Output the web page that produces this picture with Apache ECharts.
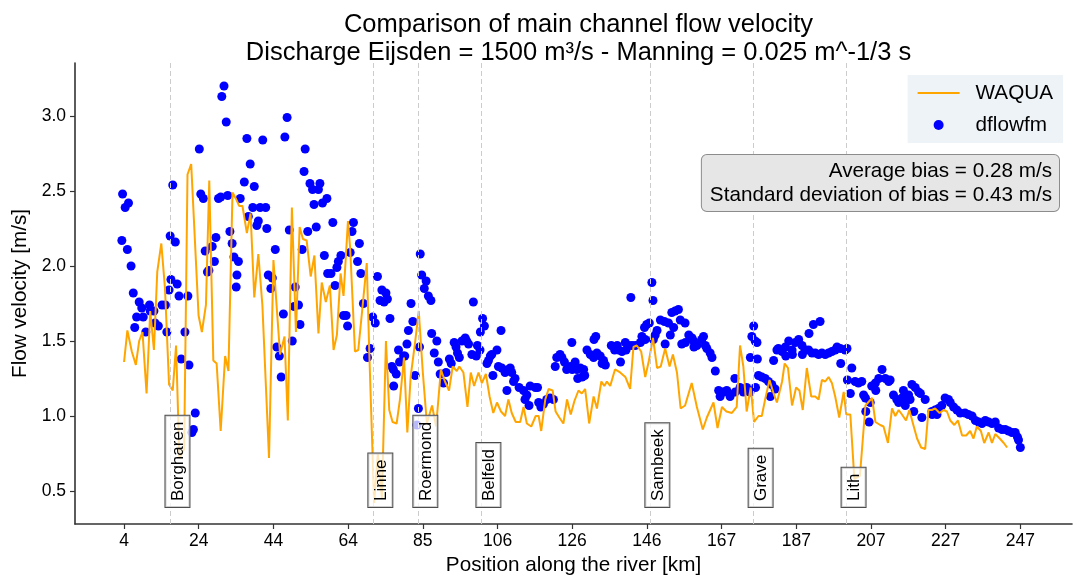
<!DOCTYPE html>
<html>
<head>
<meta charset="utf-8">
<script src="https://cdn.jsdelivr.net/npm/echarts@6/dist/echarts.min.js"></script>
<style>
  html, body { margin: 0; padding: 0; background: #ffffff; }
  #chart { width: 1075px; height: 577px; }
</style>
</head>
<body>
<div id="chart"></div>
<script>
// ---- data -------------------------------------------------------------
const tickLabels = ['4', '24', '44', '64', '85', '106', '126', '146', '167', '187', '207', '227', '247'];
const yTicks = [0.5, 1.0, 1.5, 2.0, 2.5, 3.0];

// WAQUA main channel velocity along the river
const waquaKm = [4.0, 4.9, 6.1, 7.2, 8.1, 9.0, 10.1, 11.1, 12.1, 13.0, 14.1, 15.1, 16.2, 17.2, 18.1, 19.0, 20.3, 21.2, 22.2, 24.2,
  25.1, 26.2, 27.1, 28.2, 29.1, 30.2, 31.4, 32.3, 33.4, 34.3, 35.2, 36.1, 37.3, 38.3, 39.3, 40.4, 41.5, 43.3, 44.5, 45.4,
  46.3, 47.5, 48.4, 49.5, 50.6, 51.6, 52.5, 53.5, 54.6, 55.6, 56.7, 57.6, 58.7, 59.8, 60.8, 61.7, 62.7, 63.5, 64.7, 65.3,
  66.6, 67.5, 68.7, 69.8, 70.5, 71.8, 72.8, 73.9, 75.0, 75.9, 76.8, 77.9, 78.8, 79.9, 80.8, 81.7, 82.9, 83.9, 85.0, 86.1,
  87.5, 88.6, 89.9, 91.0, 92.1, 93.1, 94.2, 94.9, 96.0, 97.1, 98.0, 98.9, 100.1, 101.0, 102.1, 103.1, 104.1, 105.1, 106.2, 107.3,
  108.2, 109.1, 110.2, 111.4, 112.3, 113.2, 114.4, 115.6, 116.4, 117.1, 118.2, 119.1, 120.2, 121.0, 122.0, 123.1, 124.1, 125.1, 126.1, 127.2,
  128.1, 129.0, 130.1, 131.3, 132.2, 133.4, 134.2, 134.9, 135.8, 137.1, 138.5, 139.9, 141.2, 142.1, 143.0, 144.2, 145.3, 146.3, 147.4, 148.5,
  149.5, 150.7, 151.9, 152.8, 153.9, 154.9, 156.1, 157.9, 159.3, 160.9, 162.0, 163.8, 164.9, 166.1, 167.3, 168.8, 170.1, 171.0, 171.9, 172.8,
  173.9, 174.8, 176.0, 176.9, 177.8, 179.0, 180.1, 181.0, 182.4, 183.1, 184.0, 185.1, 186.2, 187.1, 188.0, 189.1, 190.3, 191.4, 192.3, 193.2,
  194.1, 195.0, 195.9, 196.8, 197.9, 199.1, 199.8, 200.9, 202.0, 203.5, 205.0, 206.8, 207.7, 209.0, 209.9, 211.1, 212.2, 213.1, 214.0, 214.9,
  216.0, 216.9, 218.1, 219.0, 220.1, 221.2, 222.1, 223.0, 223.9, 225.1, 226.2, 227.1, 228.0, 229.1, 230.1, 231.2, 232.3, 233.4, 234.3, 235.2,
  236.3, 237.2, 238.4, 239.3, 240.2, 241.4, 242.5, 243.4];
const waquaVel = [1.36, 1.57, 1.43, 1.34, 1.50, 1.56, 1.15, 1.70, 1.44, 1.96, 2.15, 1.85, 1.21, 1.17, 1.47, 0.72, 0.78, 2.61, 2.68, 1.67,
  1.56, 1.74, 2.57, 1.37, 1.35, 0.90, 1.40, 1.30, 2.49, 2.45, 2.40, 2.40, 2.22, 2.35, 1.79, 2.08, 1.74, 0.72, 2.04, 1.72,
  1.41, 1.53, 0.97, 2.39, 1.56, 2.26, 2.18, 2.17, 1.93, 2.07, 1.55, 1.89, 1.76, 1.87, 1.44, 1.54, 1.95, 1.80, 2.30, 2.12,
  1.43, 1.44, 1.74, 2.02, 1.41, 0.42, 0.75, 0.45, 1.50, 1.04, 0.96, 0.95, 1.11, 1.39, 0.89, 1.26, 1.49, 1.70, 1.29, 0.95,
  1.07, 0.93, 1.31, 1.23, 1.17, 1.33, 1.30, 1.33, 1.29, 1.06, 1.29, 1.20, 1.29, 1.22, 1.28, 1.13, 1.02, 1.09, 1.03, 1.00,
  1.11, 1.02, 0.96, 0.96, 1.06, 0.95, 0.93, 1.00, 1.00, 0.90, 1.11, 1.18, 1.17, 1.03, 0.99, 0.95, 1.11, 1.01, 1.10, 1.17,
  1.15, 1.18, 0.95, 1.13, 1.05, 1.23, 1.20, 1.23, 1.20, 1.31, 1.29, 1.26, 1.18, 1.46, 1.47, 1.43, 1.26, 1.37, 1.52, 1.32,
  1.33, 1.45, 1.33, 1.41, 1.29, 1.05, 1.07, 1.22, 1.06, 0.91, 0.99, 1.09, 0.92, 1.06, 1.03, 1.02, 1.06, 1.47, 1.33, 1.03,
  1.19, 0.96, 1.00, 1.00, 1.11, 1.24, 1.15, 1.09, 1.23, 1.35, 1.32, 1.07, 1.19, 1.17, 1.04, 1.32, 1.13, 1.13, 1.11, 1.24,
  1.23, 1.26, 1.22, 1.13, 0.99, 1.16, 1.01, 1.01, 0.58, 0.60, 1.07, 1.12, 0.96, 0.94, 0.93, 0.82, 1.05, 1.00, 1.04, 1.01,
  0.97, 1.04, 0.93, 0.85, 0.79, 0.78, 1.04, 1.04, 1.05, 1.02, 1.04, 1.03, 0.97, 0.94, 0.97, 0.87, 0.87, 0.90, 0.85, 0.93,
  0.90, 0.82, 0.89, 0.82, 0.88, 0.85, 0.82, 0.79];

// D-Flow FM main channel velocity along the river
const dflowKm = [3.4, 3.6, 4.3, 4.9, 5.2, 5.9, 6.5, 6.9, 7.4, 8.1, 8.8, 9.2, 9.9, 10.9, 11.1, 12.1, 12.4, 13.3, 14.3, 15.2,
  15.6, 16.2, 16.5, 16.7, 17.2, 17.9, 18.4, 18.9, 19.5, 20.5, 21.3, 21.6, 22.4, 22.8, 23.3, 24.4, 24.8, 25.5, 26.0, 26.6,
  27.0, 27.9, 28.5, 28.9, 29.6, 30.2, 30.5, 31.1, 31.7, 32.1, 32.7, 33.3, 33.8, 34.4, 34.6, 35.0, 35.5, 36.6, 37.3, 37.7,
  38.2, 38.9, 39.3, 40.0, 40.4, 40.9, 41.6, 42.4, 42.7, 43.1, 43.8, 44.2, 45.0, 45.4, 46.1, 46.6, 47.2, 47.6, 48.2, 48.8,
  49.6, 50.1, 50.4, 51.3, 51.7, 52.3, 52.8, 53.1, 53.8, 54.4, 55.1, 55.5, 56.1, 56.7, 57.1, 57.8, 58.3, 59.0, 59.2, 60.1,
  60.6, 61.2, 61.7, 62.1, 62.8, 63.5, 64.2, 64.6, 65.3, 65.8, 66.2, 67.3, 67.8, 68.2, 68.9, 70.0, 70.7, 71.4, 72.1, 72.7,
  73.4, 73.9, 74.5, 75.0, 75.4, 76.1, 76.6, 77.0, 77.1, 77.8, 78.4, 78.7, 79.8, 80.1, 80.7, 81.1, 81.8, 82.3, 82.9, 83.4,
  83.8, 84.1, 84.3, 84.7, 85.4, 85.9, 86.5, 87.2, 87.4, 88.1, 88.8, 89.2, 89.7, 90.6, 91.3, 92.2, 92.7, 93.5, 94.0, 94.4,
  94.9, 95.6, 96.5, 96.9, 97.4, 98.3, 98.7, 99.5, 99.8, 100.5, 100.6, 101.2, 101.7, 102.4, 102.8, 103.3, 103.7, 104.0, 105.1, 105.5,
  106.2, 106.4, 107.3, 107.8, 108.2, 108.7, 109.1, 109.6, 110.0, 111.1, 112.3, 112.7, 113.2, 113.8, 114.1, 115.5, 116.1, 116.4, 117.0, 117.7,
  118.6, 119.5, 120.4, 120.9, 121.3, 122.2, 122.7, 123.4, 124.0, 125.0, 125.4, 125.5, 126.3, 126.8, 127.0, 127.7, 128.2, 128.6, 128.9, 129.5,
  130.4, 131.3, 131.4, 131.9, 132.2, 133.1, 133.6, 134.0, 134.5, 136.1, 137.0, 137.7, 138.1, 138.6, 139.0, 139.9, 140.1, 140.8, 141.4, 141.7,
  142.6, 144.0, 144.4, 145.1, 145.3, 145.7, 146.4, 147.1, 147.4, 147.5, 148.0, 148.5, 149.4, 150.5, 150.7, 151.6, 152.1, 152.5, 153.0, 153.4,
  154.3, 154.8, 155.2, 156.1, 156.2, 157.1, 158.0, 158.4, 158.5, 159.3, 160.6, 161.1, 161.6, 162.0, 162.9, 163.4, 164.3, 165.2, 165.6, 166.5,
  167.4, 168.3, 169.6, 169.7, 171.0, 171.9, 172.8, 173.7, 173.8, 174.2, 174.7, 175.1, 175.2, 175.6, 175.7, 176.0, 176.9, 177.8, 178.7, 179.2,
  179.6, 180.1, 180.5, 181.0, 181.4, 182.4, 183.3, 183.4, 184.2, 185.1, 185.2, 186.0, 186.9, 187.8, 187.9, 188.7, 189.6, 189.7, 190.5, 190.9,
  191.4, 192.3, 192.7, 193.2, 194.1, 195.0, 195.9, 196.8, 197.3, 198.2, 198.3, 199.5, 200.0, 200.1, 200.9, 201.3, 202.2, 203.1, 204.0, 204.5,
  205.0, 205.1, 206.0, 206.3, 206.7, 207.7, 207.8, 208.6, 209.5, 210.4, 211.3, 211.7, 212.6, 213.5, 214.0, 214.9, 215.3, 215.8, 216.3, 216.7,
  217.1, 217.6, 218.1, 218.5, 219.4, 219.9, 220.3, 221.2, 223.0, 223.1, 223.9, 224.4, 224.8, 225.7, 226.6, 227.5, 228.0, 228.9, 229.8, 230.7,
  232.0, 232.9, 233.9, 234.8, 235.7, 236.6, 237.5, 238.4, 239.3, 240.2, 241.1, 242.0, 242.9, 243.8, 244.7, 245.6, 246.2, 246.5, 247.0];
const dflowVel = [2.17, 2.48, 2.39, 2.11, 2.42, 2.00, 1.82, 1.59, 1.66, 1.76, 1.72, 1.66, 1.56, 1.74, 1.70, 1.70, 1.62, 1.60, 1.74, 1.74,
  1.56, 1.84, 2.20, 1.91, 2.54, 2.16, 1.88, 1.80, 1.38, 1.56, 1.80, 1.34, 0.89, 0.91, 1.02, 2.78, 2.48, 2.45, 2.10, 1.96,
  1.97, 2.13, 2.03, 2.19, 2.45, 2.46, 3.13, 3.20, 2.96, 2.47, 2.23, 2.15, 2.06, 1.86, 1.94, 2.03, 2.45, 2.56, 2.85, 2.33,
  2.68, 2.39, 2.53, 2.27, 2.30, 2.39, 2.84, 2.39, 2.25, 1.94, 1.85, 1.92, 2.11, 1.46, 1.40, 1.26, 1.68, 2.86, 2.99, 2.24,
  1.50, 1.73, 1.86, 1.74, 1.61, 2.11, 2.63, 2.78, 2.23, 2.55, 2.51, 2.41, 2.26, 2.51, 2.55, 2.42, 2.07, 2.45, 1.95, 1.95,
  2.29, 1.87, 1.99, 2.03, 2.07, 1.67, 1.67, 1.60, 2.09, 2.23, 2.29, 2.03, 2.15, 1.95, 1.75, 1.39, 1.45, 1.66, 1.62, 1.93,
  1.77, 1.84, 1.76, 1.82, 1.78, 1.65, 1.33, 1.31, 1.20, 1.28, 1.44, 1.36, 1.40, 1.40, 1.48, 1.57, 1.75, 1.63, 1.27, 0.94,
  1.05, 1.46, 2.08, 1.94, 1.85, 1.90, 1.80, 1.77, 1.55, 1.42, 1.50, 1.36, 1.28, 1.22, 1.29, 1.38, 1.35, 1.49, 1.46, 1.42,
  1.39, 1.50, 1.52, 1.50, 1.48, 1.41, 1.76, 1.40, 1.47, 1.44, 1.56, 1.65, 1.60, 1.35, 1.37, 1.40, 1.41, 1.27, 1.44, 1.33,
  1.57, 1.32, 1.29, 1.17, 1.31, 1.32, 1.29, 1.23, 1.25, 1.19, 1.17, 1.11, 1.14, 1.07, 1.20, 1.19, 1.19, 1.09, 1.06, 1.08,
  1.11, 1.12, 1.11, 1.33, 1.39, 1.41, 1.39, 1.36, 1.31, 1.33, 1.49, 1.31, 1.36, 1.31, 1.25, 1.32, 1.26, 1.31, 1.27, 1.44,
  1.41, 1.39, 1.51, 1.53, 1.42, 1.40, 1.35, 1.37, 1.34, 1.47, 1.44, 1.47, 1.44, 1.36, 1.43, 1.49, 1.44, 1.47, 1.79, 1.47,
  1.47, 1.49, 1.53, 1.59, 1.51, 1.61, 1.62, 1.89, 1.77, 1.51, 1.54, 1.57, 1.64, 1.63, 1.48, 1.62, 1.54, 1.69, 1.59, 1.70,
  1.71, 1.64, 1.48, 1.62, 1.49, 1.54, 1.52, 1.50, 1.46, 1.47, 1.51, 1.53, 1.47, 1.45, 1.42, 1.39, 1.30, 1.17, 1.13, 1.16,
  1.17, 1.13, 1.25, 1.16, 1.19, 1.16, 1.19, 1.16, 1.39, 1.53, 1.60, 1.50, 1.19, 1.49, 1.38, 1.27, 1.26, 1.25, 1.23, 1.13,
  1.21, 1.37, 1.18, 1.44, 1.45, 1.43, 1.46, 1.40, 1.50, 1.44, 1.41, 1.49, 1.51, 1.47, 1.41, 1.44, 1.44, 1.55, 1.42, 1.61,
  1.42, 1.41, 1.63, 1.42, 1.41, 1.42, 1.43, 1.44, 1.46, 1.45, 1.35, 1.44, 1.45, 1.24, 1.15, 1.32, 1.23, 1.22, 1.23, 1.14,
  1.12, 1.03, 0.96, 1.09, 1.20, 1.22, 1.17, 1.25, 1.31, 1.25, 1.23, 1.24, 1.14, 1.11, 1.09, 1.12, 1.17, 1.07, 1.11, 1.14,
  1.11, 1.21, 1.03, 1.19, 1.16, 1.15, 0.99, 1.11, 1.03, 1.01, 1.04, 1.01, 1.05, 1.07, 1.12, 1.11, 1.09, 1.06, 1.04, 1.02,
  1.02, 1.01, 1.00, 0.97, 0.96, 0.95, 0.97, 0.96, 0.95, 0.96, 0.92, 0.91, 0.91, 0.90, 0.89, 0.89, 0.86, 0.84, 0.79];

// gauging stations along the Meuse
const stationNames = ['Borgharen', 'Linne', 'Roermond', 'Belfeld', 'Sambeek', 'Grave', 'Lith'];
const stationKm = [16.5, 71.5, 83.7, 100.8, 146.6, 174.6, 199.8];

const averageBias = 0.28;
const stdBias = 0.43;

// ---- layout / style ---------------------------------------------------
const FONT = '"Liberation Sans", Arial, Helvetica, sans-serif';
const X_MIN = -9.3, X_MAX = 261.0;
const Y_MIN = 0.28, Y_MAX = 3.353;
const LABEL_BASE = 0.393;      // velocity level of the bottom of the station boxes

// ticks are evenly spread between the first and the last labelled position
const tickFirst = Number(tickLabels[0]);
const tickLast = Number(tickLabels[tickLabels.length - 1]);
const tickPos = tickLabels.map((_, i) => tickFirst + i * (tickLast - tickFirst) / (tickLabels.length - 1));
function tickText(v) {
  let best = 0;
  tickPos.forEach((p, i) => { if (Math.abs(p - v) < Math.abs(tickPos[best] - v)) best = i; });
  return tickLabels[best];
}

const waquaData = waquaKm.map((k, i) => [k, waquaVel[i]]);
const dflowData = dflowKm.map((k, i) => [k, dflowVel[i]]);

const chart = echarts.init(document.getElementById('chart'), null, { renderer: 'canvas' });

const axisColor = '#333333';

chart.setOption({
  animation: false,
  backgroundColor: '#ffffff',
  textStyle: { fontFamily: FONT },
  title: {
    text: 'Comparison of main channel flow velocity\nDischarge Eijsden = 1500 m³/s - Manning = 0.025 m^-1/3 s',
    left: 573.5,
    top: 6,
    textAlign: 'center',
    textStyle: { fontFamily: FONT, fontSize: 25.5, fontWeight: 'normal', color: '#000000', lineHeight: 28 }
  },
  grid: { left: 75, right: 3, top: 63, bottom: 53, containLabel: false, outerBoundsMode: 'none' },
  legend: {
    data: [
      { name: 'WAQUA', icon: 'path://M0,0 L21,0 L21,1 L0,1 Z' },
      { name: 'dflowfm', icon: 'circle' }
    ],
    orient: 'vertical',
    right: 12,
    top: 75,
    backgroundColor: '#eef3f8',
    padding: [6, 10, 6, 10],
    itemWidth: 42,
    itemHeight: 10,
    itemGap: 8,
    textStyle: { fontFamily: FONT, fontSize: 20.7, color: '#000000', lineHeight: 24, padding: [0, 0, 0, 11] }
  },
  xAxis: {
    type: 'value',
    min: X_MIN,
    max: X_MAX,
    name: 'Position along the river [km]',
    nameLocation: 'middle',
    nameGap: 31,
    nameTextStyle: { fontFamily: FONT, fontSize: 20.7, color: '#000000' },
    axisLine: { show: true, onZero: false, lineStyle: { color: axisColor, width: 1.6 } },
    axisTick: { show: true, length: 5, customValues: tickPos, lineStyle: { color: axisColor, width: 1.2 } },
    axisLabel: { customValues: tickPos, formatter: tickText, margin: 8, fontFamily: FONT, fontSize: 17.5, color: '#000000' },
    splitLine: { show: false }
  },
  yAxis: {
    type: 'value',
    min: Y_MIN,
    max: Y_MAX,
    name: 'Flow velocity [m/s]',
    nameLocation: 'middle',
    nameRotate: 90,
    nameGap: 39,
    nameTextStyle: { fontFamily: FONT, fontSize: 20.7, color: '#000000' },
    axisLine: { show: true, onZero: false, lineStyle: { color: axisColor, width: 1.6 } },
    axisTick: { show: true, length: 5, customValues: yTicks, lineStyle: { color: axisColor, width: 1.2 } },
    axisLabel: { customValues: yTicks, formatter: v => v.toFixed(1), margin: 9, fontFamily: FONT, fontSize: 17.5, color: '#000000' },
    splitLine: { show: false }
  },
  series: [
    {
      // dashed station markers
      name: 'stations',
      type: 'line',
      data: [],
      z: 1,
      silent: true,
      markLine: {
        silent: true,
        symbol: ['none', 'none'],
        label: { show: false },
        lineStyle: { color: '#cccccc', width: 1, type: [5, 3] },
        data: stationKm.map(k => ({ xAxis: k }))
      }
    },
    {
      name: 'dflowfm',
      type: 'scatter',
      data: dflowData,
      symbol: 'circle',
      symbolSize: 9,
      itemStyle: { color: '#0000ff', opacity: 1 },
      z: 2
    },
    {
      name: 'WAQUA',
      type: 'line',
      data: waquaData,
      symbol: 'none',
      lineStyle: { color: '#ffa500', width: 2 },
      itemStyle: { color: '#ffa500' },
      z: 3
    },
    {
      // station name boxes
      name: 'station labels',
      type: 'custom',
      silent: true,
      z: 5,
      data: stationKm.map(k => [k, LABEL_BASE]),
      renderItem: function (params, api) {
        const p = api.coord([api.value(0), api.value(1)]);
        return {
          type: 'text',
          x: p[0] - 4.7,
          y: p[1],
          rotation: Math.PI / 2,
          style: {
            text: stationNames[params.dataIndex],
            font: '17px ' + FONT,
            fill: '#000000',
            align: 'left',
            verticalAlign: 'top',
            backgroundColor: 'rgba(255,255,255,0.72)',
            borderColor: '#4d4d4d',
            borderWidth: 1,
            padding: [4, 6, 3, 6]
          }
        };
      }
    }
  ],
  graphic: [
    {
      type: 'text',
      right: 15,
      top: 154,
      z: 10,
      style: {
        text: 'Average bias = ' + averageBias.toFixed(2) + ' m/s\nStandard deviation of bias = ' + stdBias.toFixed(2) + ' m/s',
        font: '20.7px ' + FONT,
        fill: '#000000',
        textAlign: 'right',
        align: 'right',
        lineHeight: 23.5,
        backgroundColor: '#e6e6e6',
        borderColor: '#8c8c8c',
        borderWidth: 1,
        borderRadius: 5,
        padding: [5, 7, 4, 8]
      }
    }
  ]
});
</script>
</body>
</html>
